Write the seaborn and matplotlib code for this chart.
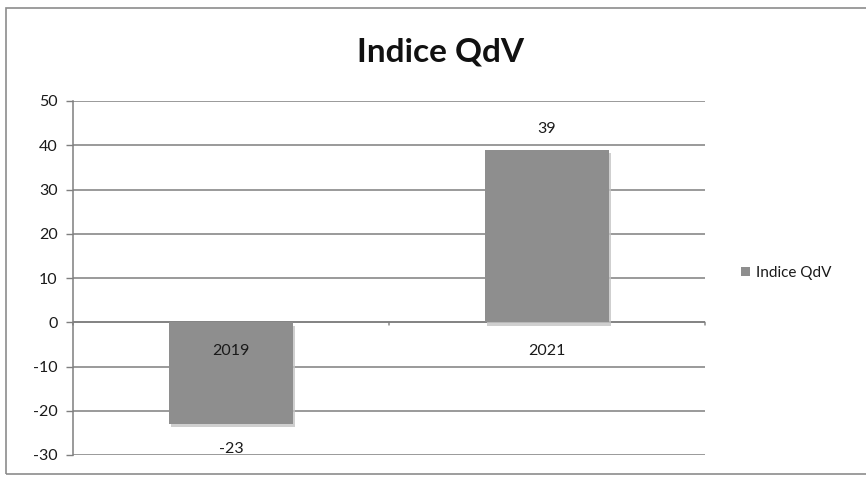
import matplotlib
matplotlib.use("Agg")
import matplotlib.pyplot as plt
import matplotlib.patheffects as pe
from matplotlib.patches import Patch, Rectangle
import pandas as pd
import seaborn as sns

years = ["2019", "2021"]
indice_qdv = [-23, 39]
series_name = "Indice QdV"
y_ticks = [-30, -20, -10, 0, 10, 20, 30, 40, 50]

df = pd.DataFrame({"Anno": years, series_name: indice_qdv})

sns.set_theme(style="white")
plt.rcParams["font.family"] = ["Lato", "DejaVu Sans"]

W, H = 866, 479
fig = plt.figure(figsize=(W / 100, H / 100), dpi=100)
fig.patch.set_facecolor("white")

# outer chart frame
fig.add_artist(Rectangle((6 / W, 5 / H), (W + 10) / W, (H - 13) / H,
                         transform=fig.transFigure, fill=False,
                         edgecolor="#8c8c8c", linewidth=1.2))

ax = fig.add_axes([73 / W, 1 - 455 / H, (705 - 73) / W, (455 - 101) / H])

bar_color = "#8e8e8e"
grid_color = "#7f7f7f"
sns.barplot(data=df, x="Anno", y=series_name, color=bar_color, width=0.39,
            saturation=1, ax=ax, zorder=3)
for p in ax.patches:
    p.set_edgecolor("none")
    p.set_path_effects([pe.SimplePatchShadow(offset=(1.5, -2.5), shadow_rgbFace="#c4c4c4", alpha=0.8),
                        pe.Normal()])

ax.set_ylim(-30, 50)
ax.set_xlim(-0.5, 1.5)
ax.set_yticks(y_ticks)
ax.set_yticklabels([str(t) for t in y_ticks], fontsize=11.5, color="#1a1a1a")
ax.tick_params(axis="y", length=5, width=1, color=grid_color, pad=6, direction="out", left=True)
ax.set_xticks([])
ax.set_xlabel("")
ax.set_ylabel("")

ax.yaxis.grid(True, color=grid_color, linewidth=1.1, zorder=0)
ax.set_axisbelow(True)
for side in ["top", "right", "bottom"]:
    ax.spines[side].set_visible(False)
ax.spines["left"].set_color(grid_color)
ax.spines["left"].set_linewidth(1.1)

# category axis drawn at zero with boundary ticks
ax.axhline(0, color=grid_color, linewidth=1.1, zorder=2)
for xb in [-0.5, 0.5, 1.5]:
    ax.annotate("", xy=(xb, 0), xytext=(0, -4), textcoords="offset points",
                xycoords="data", annotation_clip=False,
                arrowprops=dict(arrowstyle="-", color=grid_color, lw=1.0))

# category labels just below the zero line
for i, yr in enumerate(years):
    ax.annotate(yr, xy=(i, 0), xytext=(0, -21), textcoords="offset points",
                ha="center", va="center", fontsize=11.5, color="#1a1a1a", zorder=5)

# value labels
for i, v in enumerate(indice_qdv):
    off = 15 if v > 0 else -18
    ax.annotate(f"{v}", xy=(i, v), xytext=(0, off), textcoords="offset points",
                ha="center", va="center", fontsize=11.5, color="#1a1a1a", zorder=5,
                annotation_clip=False)

fig.text(440 / W, 1 - 52 / H, series_name, ha="center", va="center",
         fontsize=24, fontweight="bold", color="#111111")

fig.legend(handles=[Patch(facecolor=bar_color, edgecolor="none", label=series_name)],
           loc="center left", bbox_to_anchor=(735 / W, 1 - 273 / H), frameon=False,
           fontsize=11, handlelength=0.6, handleheight=0.6, handletextpad=0.4,
           borderaxespad=0, labelcolor="#1a1a1a")

fig.savefig("out.png", dpi=100)
